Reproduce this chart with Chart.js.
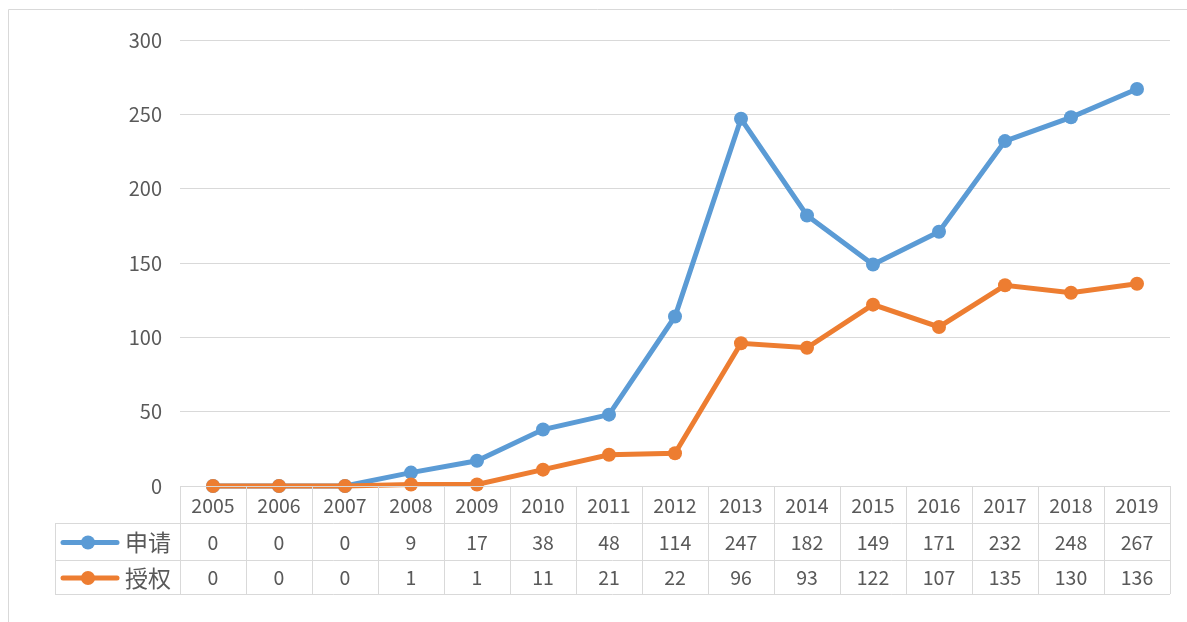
<!DOCTYPE html>
<html><head><meta charset="utf-8">
<script src="https://cdn.jsdelivr.net/npm/chart.js@4"></script>
<style>html,body{margin:0;padding:0;background:#fff}#wrap{width:1187px;height:622px;position:relative}</style>
</head><body><div id="wrap"><canvas id="c" width="1187" height="622"></canvas></div>
<script>
const years = ['2005','2006','2007','2008','2009','2010','2011','2012','2013','2014','2015','2016','2017','2018','2019'];
const applied = [0,0,0,9,17,38,48,114,247,182,149,171,232,248,267];
const granted = [0,0,0,1,1,11,21,22,96,93,122,107,135,130,136];
const seriesNames = ['申请','授权'];
const yTicks = [0,50,100,150,200,250,300];

const BLUE = '#5B9BD5', ORANGE = '#ED7D31', TXT = '#595959', GRID = '#D9D9D9';
const FONT = '"Noto Sans CJK SC", "Liberation Sans", sans-serif';

const tablePlugin = {
  id: 'dataTable',
  afterDraw(chart) {
    const ctx = chart.ctx, xs = chart.scales.x, area = chart.chartArea;
    const colW = (area.right - area.left) / years.length;
    const top = area.bottom, r1 = 523, r2 = 560, bot = 594, legL = 55;
    ctx.save();
    ctx.strokeStyle = '#D9D9D9'; ctx.lineWidth = 1;
    ctx.beginPath(); ctx.moveTo(8.5, 622); ctx.lineTo(8.5, 9.5); ctx.lineTo(1187, 9.5); ctx.stroke();
    ctx.strokeStyle = GRID;
    ctx.beginPath();
    ctx.moveTo(area.left, top + 0.5); ctx.lineTo(area.right, top + 0.5);
    [r1, r2, bot].forEach(y => { ctx.moveTo(legL, y + 0.5); ctx.lineTo(area.right, y + 0.5); });
    ctx.moveTo(legL + 0.5, r1); ctx.lineTo(legL + 0.5, bot);
    for (let i = 0; i <= years.length; i++) {
      const x = Math.round(xs.getPixelForValue(Math.min(i, years.length - 1)) + (i === years.length ? colW / 2 : -colW / 2)) + 0.5;
      ctx.moveTo(x, top); ctx.lineTo(x, bot);
    }
    ctx.stroke();
    ctx.fillStyle = TXT; ctx.textAlign = 'center'; ctx.textBaseline = 'middle';
    ctx.font = '19.5px ' + FONT;
    const rows = [applied, granted];
    years.forEach((yr, i) => {
      const cx = xs.getPixelForValue(i);
      ctx.fillText(yr, cx, (top + r1) / 2 + 1);
      ctx.fillText(String(rows[0][i]), cx, (r1 + r2) / 2 + 1);
      ctx.fillText(String(rows[1][i]), cx, (r2 + bot) / 2 + 1);
    });
    const cols = [BLUE, ORANGE], ys = [(r1 + r2) / 2, (r2 + bot) / 2];
    for (let k = 0; k < 2; k++) {
      ctx.strokeStyle = cols[k]; ctx.lineWidth = 5; ctx.lineCap = 'round';
      ctx.beginPath(); ctx.moveTo(63, ys[k] + 1); ctx.lineTo(117, ys[k] + 1); ctx.stroke();
      ctx.fillStyle = cols[k];
      ctx.beginPath(); ctx.arc(88, ys[k] + 1, 7, 0, Math.PI * 2); ctx.fill();
      ctx.fillStyle = TXT; ctx.textAlign = 'left'; ctx.font = '23px ' + FONT;
      ctx.fillText(seriesNames[k], 125, ys[k] + 1);
    }
    ctx.restore();
  }
};

new Chart(document.getElementById('c'), {
  type: 'line',
  data: {
    labels: years,
    datasets: [
      { label: seriesNames[0], data: applied, borderColor: BLUE, backgroundColor: BLUE, borderWidth: 5,
        pointRadius: 7, pointHoverRadius: 7, pointBackgroundColor: BLUE, pointBorderWidth: 0, order: 1, clip: false, tension: 0 },
      { label: seriesNames[1], data: granted, borderColor: ORANGE, backgroundColor: ORANGE, borderWidth: 5,
        pointRadius: 7, pointHoverRadius: 7, pointBackgroundColor: ORANGE, pointBorderWidth: 0, order: 0, clip: false, tension: 0 }
    ]
  },
  options: {
    responsive: false, animation: false,
    layout: { padding: { top: 40, right: 17, bottom: 136, left: 0 } },
    plugins: { legend: { display: false }, tooltip: { enabled: false } },
    scales: {
      x: { type: 'category', offset: true, display: false },
      y: {
        min: 0, max: 300,
        afterFit(s) { s.width = 180; },
        afterBuildTicks(s) { s.ticks = yTicks.map(v => ({ value: v })); },
        border: { display: false },
        grid: { color: GRID, lineWidth: 1, drawTicks: false },
        ticks: { padding: 18, color: TXT, font: { size: 20, family: FONT } }
      }
    }
  },
  plugins: [tablePlugin]
});
</script></body></html>
